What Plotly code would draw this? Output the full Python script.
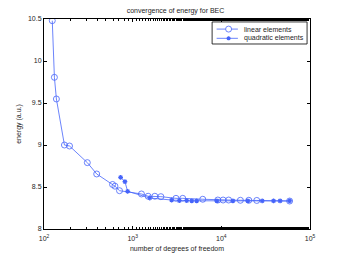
import plotly.graph_objects as go

lin_dof = [124, 131, 138, 170, 194, 308, 393, 593, 631, 711, 1256, 1494, 1778, 2080, 3080, 3670, 6170, 9120, 10470, 12100, 16400, 20400, 25100, 58900]
lin_energy = [10.48, 9.806, 9.548, 9.0, 8.988, 8.79, 8.655, 8.53, 8.51, 8.456, 8.417, 8.39, 8.39, 8.385, 8.365, 8.365, 8.354, 8.345, 8.345, 8.345, 8.342, 8.342, 8.34, 8.333]
quad_dof = [731, 818, 877, 1560, 2750, 3360, 4070, 4640, 5270, 8900, 13500, 19900, 28900, 38800, 46000, 58900]
quad_energy = [8.615, 8.563, 8.449, 8.369, 8.345, 8.338, 8.338, 8.336, 8.336, 8.336, 8.336, 8.336, 8.335, 8.335, 8.335, 8.334]

series_names = ["linear elements", "quadratic elements"]
xtick_vals = [100, 1000, 10000, 100000]
xtick_text = ["10<sup>2</sup>", "10<sup>3</sup>", "10<sup>4</sup>", "10<sup>5</sup>"]
ytick_vals = [8, 8.5, 9, 9.5, 10, 10.5]
ytick_text = ["8", "8.5", "9", "9.5", "10", "10.5"]

col = "rgb(70,100,250)"
txt = "rgb(30,30,30)"
fig = go.Figure()
fig.add_trace(go.Scatter(x=lin_dof, y=lin_energy, mode="lines+markers", name=series_names[0],
                         line=dict(color=col, width=0.8),
                         marker=dict(symbol="circle-open", size=6, color=col, line=dict(width=0.8))))
fig.add_trace(go.Scatter(x=quad_dof, y=quad_energy, mode="lines+markers", name=series_names[1],
                         line=dict(color=col, width=0.8),
                         marker=dict(symbol="asterisk-open", size=4, color=col, line=dict(width=1.2, color=col))))

axis_common = dict(showgrid=False, zeroline=False, ticks="inside", ticklen=3, tickwidth=0.6,
                   tickcolor="black", linecolor="black", linewidth=1, mirror="ticks", showline=True,
                   automargin=False, tickfont=dict(size=7, color=txt))
# page body has an 8px default margin, so the figure is sized and offset to compensate
fig.update_layout(
    width=335, height=250,
    margin=dict(l=36, r=33, t=11, b=29),
    paper_bgcolor="white", plot_bgcolor="white",
    font=dict(family="Liberation Sans, Arial, sans-serif", size=7, color=txt),
    title=dict(text="convergence of energy for BEC", x=0.5, xanchor="center", y=0.988, yanchor="middle",
               font=dict(size=7, color=txt)),
    showlegend=False,
)
fig.update_xaxes(type="log", range=[2, 5], tickvals=xtick_vals, ticktext=xtick_text,
                 ticklabelstandoff=3,
                 title=dict(text="number of degrees of freedom", font=dict(size=7, color=txt), standoff=4),
                 minor=dict(ticks="inside", ticklen=2, tickcolor="black", tickwidth=0.5), **axis_common)
fig.update_yaxes(range=[8, 10.5], tickvals=ytick_vals, ticktext=ytick_text,
                 title=dict(text="energy (a.u.)", font=dict(size=7, color=txt), standoff=5), **axis_common)

# compact MATLAB-style legend built from shapes and annotations
lx0, lx1, ly0, ly1 = 0.632, 0.989, 0.881, 0.986
rows = [0.952, 0.908]
line_x0, line_x1, mark_x, text_x = 0.649, 0.729, 0.694, 0.743
fig.add_shape(type="rect", xref="x domain", yref="y domain", x0=lx0, x1=lx1, y0=ly0, y1=ly1,
              line=dict(color="black", width=0.8), fillcolor="white", layer="above")
for i, ry in enumerate(rows):
    fig.add_shape(type="line", xref="x domain", yref="y domain", x0=line_x0, x1=line_x1, y0=ry, y1=ry,
                  line=dict(color=col, width=0.8), layer="above")
    fig.add_annotation(xref="x domain", yref="y domain", x=text_x, y=ry, text=series_names[i],
                       showarrow=False, xanchor="left", yanchor="middle", font=dict(size=7, color=txt))
fig.add_shape(type="circle", xref="x domain", yref="y domain", xsizemode="pixel", ysizemode="pixel",
              xanchor=mark_x, yanchor=rows[0], x0=-3, x1=3, y0=-3, y1=3,
              line=dict(color=col, width=0.8), fillcolor="white", layer="above")
fig.add_shape(type="path", xref="x domain", yref="y domain", xsizemode="pixel", ysizemode="pixel",
              xanchor=mark_x, yanchor=rows[1],
              path="M-2,0 L2,0 M0,-2 L0,2 M-1.5,-1.5 L1.5,1.5 M-1.5,1.5 L1.5,-1.5",
              line=dict(color=col, width=1.2), layer="above")

fig.write_html("out.html")
